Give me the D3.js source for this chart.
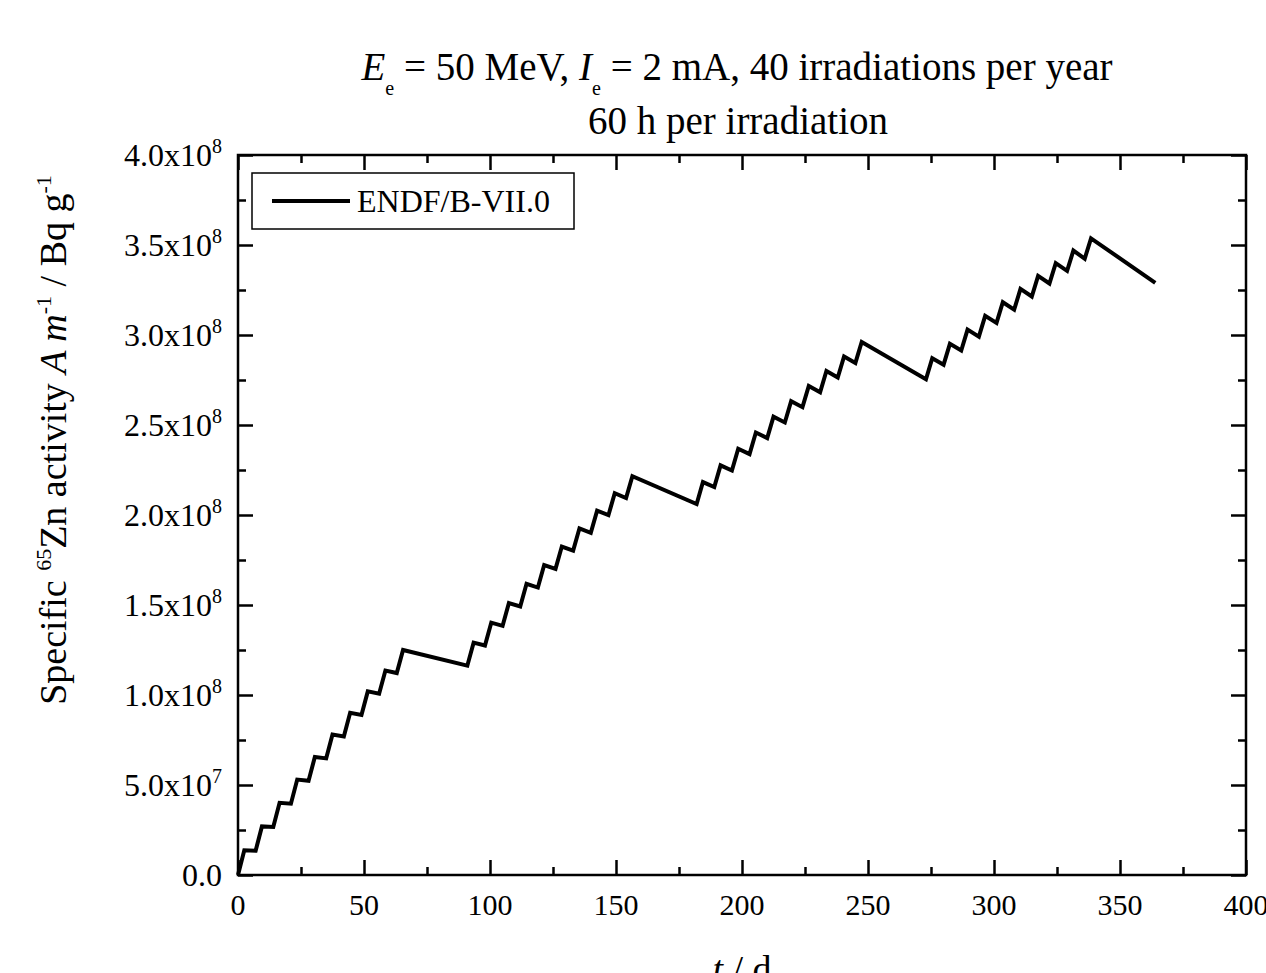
<!DOCTYPE html>
<html>
<head>
<meta charset="utf-8">
<script src="https://cdn.jsdelivr.net/npm/d3@7"></script>
<style>
  body { margin: 0; background: #fff; }
  svg { display: block; }
  text { font-family: "Liberation Serif", "Times New Roman", serif; fill: #000; }
</style>
</head>
<body>
<svg id="chart"></svg>
<script>
// irradiation time points (days)
let days = [
    0, 2.5, 7, 9.5, 14, 16.5, 21, 23.5, 28, 30.5, 35, 37.5, 42, 44.5, 49, 51.5, 56, 58.5, 63, 65.5,
    91, 93.5, 98, 100.5, 105, 107.5, 112, 114.5, 119, 121.5, 126, 128.5, 133, 135.5, 140, 142.5, 147, 149.5, 154, 156.5,
    182, 184.5, 189, 191.5, 196, 198.5, 203, 205.5, 210, 212.5, 217, 219.5, 224, 226.5, 231, 233.5, 238, 240.5, 245, 247.5,
    273, 275.5, 280, 282.5, 287, 289.5, 294, 296.5, 301, 303.5, 308, 310.5, 315, 317.5, 322, 324.5, 329, 331.5, 336, 338.5,
    364
];

// specific activity in units of 1e8 Bq/g (ENDF/B-VII.0)
let activityE8 = [
    0, 0.137, 0.135, 0.270, 0.267, 0.401, 0.396, 0.530, 0.523, 0.656, 0.648, 0.780, 0.770, 0.901, 0.889, 1.020, 1.007, 1.136, 1.122, 1.250,
    1.163, 1.291, 1.275, 1.402, 1.384, 1.511, 1.492, 1.618, 1.597, 1.722, 1.701, 1.825, 1.802, 1.926, 1.901, 2.024, 1.999, 2.121, 2.094, 2.216,
    2.061, 2.183, 2.155, 2.276, 2.247, 2.368, 2.338, 2.458, 2.427, 2.546, 2.514, 2.632, 2.599, 2.717, 2.682, 2.800, 2.764, 2.881, 2.845, 2.961,
    2.754, 2.871, 2.835, 2.951, 2.914, 3.030, 2.991, 3.106, 3.067, 3.182, 3.141, 3.256, 3.214, 3.328, 3.286, 3.399, 3.356, 3.469, 3.424, 3.537,
    3.290
];

let xMajorTicks = [0, 50, 100, 150, 200, 250, 300, 350, 400];
let xMinorTicks = [25, 75, 125, 175, 225, 275, 325, 375];
let yMajorTicks = [0, 5e7, 1e8, 1.5e8, 2e8, 2.5e8, 3e8, 3.5e8, 4e8];
let yMinorTicks = [2.5e7, 7.5e7, 1.25e8, 1.75e8, 2.25e8, 2.75e8, 3.25e8, 3.75e8];
let yTickMantissa = ['0.0', '5.0x10', '1.0x10', '1.5x10', '2.0x10', '2.5x10', '3.0x10', '3.5x10', '4.0x10'];
let yTickExponent = ['', '7', '8', '8', '8', '8', '8', '8', '8'];
let seriesName = 'ENDF/B-VII.0';

let W = 1266, H = 973;
let margin = {top: 155, right: 20, bottom: 98, left: 238};
let width = 1246 - margin.left;
let height = 875 - margin.top;

let svg = d3.select('#chart')
    .attr('width', W)
    .attr('height', H);

let g = svg.append('g')
    .attr('transform', 'translate(' + margin.left + ',' + margin.top + ')');

let xScale = d3.scaleLinear().domain([0, 400]).range([0, width]);
let yScale = d3.scaleLinear().domain([0, 4e8]).range([height, 0]);

// axes: ticks point inward, labels drawn separately
function styleAxis(sel) {
    sel.select('.domain').remove();
    sel.selectAll('.tick line').attr('stroke', '#000').attr('stroke-width', 2.5);
    sel.selectAll('.tick text').remove();
}

g.append('g').attr('transform', 'translate(0,' + height + ')')
    .call(d3.axisBottom(xScale).tickValues(xMajorTicks).tickSize(-15)).call(styleAxis);
g.append('g').attr('transform', 'translate(0,' + height + ')')
    .call(d3.axisBottom(xScale).tickValues(xMinorTicks).tickSize(-8)).call(styleAxis);
g.append('g')
    .call(d3.axisTop(xScale).tickValues(xMajorTicks).tickSize(-15)).call(styleAxis);
g.append('g')
    .call(d3.axisTop(xScale).tickValues(xMinorTicks).tickSize(-8)).call(styleAxis);
g.append('g')
    .call(d3.axisLeft(yScale).tickValues(yMajorTicks).tickSize(-15)).call(styleAxis);
g.append('g')
    .call(d3.axisLeft(yScale).tickValues(yMinorTicks).tickSize(-8)).call(styleAxis);
g.append('g').attr('transform', 'translate(' + width + ',0)')
    .call(d3.axisRight(yScale).tickValues(yMajorTicks).tickSize(-15)).call(styleAxis);
g.append('g').attr('transform', 'translate(' + width + ',0)')
    .call(d3.axisRight(yScale).tickValues(yMinorTicks).tickSize(-8)).call(styleAxis);

// frame
g.append('rect')
    .attr('width', width)
    .attr('height', height)
    .attr('fill', 'none')
    .attr('stroke', '#000')
    .attr('stroke-width', 2.5);

// x tick labels (the last one runs past the page edge, as in the original)
g.selectAll('.xlab')
    .data(xMajorTicks)
    .enter().append('text')
    .attr('x', d => xScale(d))
    .attr('y', height + 40)
    .attr('text-anchor', 'middle')
    .style('font-size', '30px')
    .text(d => d);

// y tick labels with superscript exponent
let ylab = g.selectAll('.ylab')
    .data(yMajorTicks)
    .enter().append('text')
    .attr('x', -16)
    .attr('y', d => yScale(d) + 11)
    .attr('text-anchor', 'end')
    .style('font-size', '32px');
ylab.append('tspan').text((d, i) => yTickMantissa[i]);
ylab.append('tspan')
    .attr('dy', -13)
    .style('font-size', '20px')
    .text((d, i) => yTickExponent[i]);

// data line
let line = d3.line()
    .x((d, i) => xScale(days[i]))
    .y(d => yScale(d * 1e8));

g.append('path')
    .datum(activityE8)
    .attr('fill', 'none')
    .attr('stroke', '#000')
    .attr('stroke-width', 4)
    .attr('d', line);

// legend
let legend = svg.append('g');
legend.append('rect')
    .attr('x', 252).attr('y', 173)
    .attr('width', 322).attr('height', 56)
    .attr('fill', '#fff')
    .attr('stroke', '#000')
    .attr('stroke-width', 1.5);
legend.append('line')
    .attr('x1', 272).attr('x2', 350)
    .attr('y1', 201).attr('y2', 201)
    .attr('stroke', '#000')
    .attr('stroke-width', 4);
legend.append('text')
    .attr('x', 357).attr('y', 212)
    .style('font-size', '32px')
    .text(seriesName);

// title
let cx = margin.left + width / 2;
let t1 = svg.append('text')
    .attr('x', cx - 5).attr('y', 80)
    .attr('text-anchor', 'middle')
    .style('font-size', '39px');
t1.append('tspan').style('font-style', 'italic').text('E');
t1.append('tspan').attr('dy', 15).style('font-size', '20px').text('e');
t1.append('tspan').attr('dy', -15).text(' = 50 MeV, ');
t1.append('tspan').style('font-style', 'italic').text('I');
t1.append('tspan').attr('dy', 15).style('font-size', '20px').text('e');
t1.append('tspan').attr('dy', -15).text(' = 2 mA, 40 irradiations per year');

svg.append('text')
    .attr('x', cx - 4).attr('y', 134)
    .attr('text-anchor', 'middle')
    .style('font-size', '39px')
    .text('60 h per irradiation');

// x axis label (partly outside the picture, as in the original)
let xl = svg.append('text')
    .attr('x', cx).attr('y', 982)
    .attr('text-anchor', 'middle')
    .style('font-size', '38px');
xl.append('tspan').style('font-style', 'italic').text('t');
xl.append('tspan').text(' / d');

// y axis label
let yl = svg.append('text')
    .attr('transform', 'translate(66,440) rotate(-90)')
    .attr('text-anchor', 'middle')
    .style('font-size', '38px');
yl.append('tspan').text('Specific ');
yl.append('tspan').attr('dy', -15).style('font-size', '22px').text('65');
yl.append('tspan').attr('dy', 15).text('Zn activity ');
yl.append('tspan').style('font-style', 'italic').text('A m');
yl.append('tspan').attr('dy', -15).style('font-size', '22px').text('-1');
yl.append('tspan').attr('dy', 15).text(' / Bq g');
yl.append('tspan').attr('dy', -15).style('font-size', '22px').text('-1');
</script>
</body>
</html>
